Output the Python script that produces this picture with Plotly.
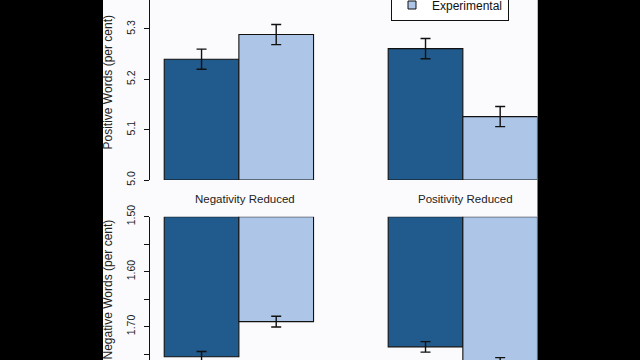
import plotly.graph_objects as go

# ---- data ----
groups = ["Negativity Reduced", "Positivity Reduced"]
series = ["Control", "Experimental"]

pos_control = [5.240, 5.261]
pos_control_se = [0.020, 0.020]
pos_exper = [5.289, 5.126]
pos_exper_se = [0.020, 0.020]

neg_control = [1.755, 1.737]
neg_control_se = [0.0095, 0.0095]
neg_exper = [1.691, 1.766]
neg_exper_se = [0.0097, 0.0095]

pos_ticks = [5.0, 5.1, 5.2, 5.3]
pos_ticktext = ["5.0", "5.1", "5.2", "5.3"]
neg_ticks = [1.50, 1.55, 1.60, 1.65, 1.70, 1.75]
neg_ticktext = ["1.50", "", "1.60", "", "1.70", ""]

pos_base = 5.0
neg_base = 1.5

# ---- style ----
DARK = "#215a8c"
LIGHT = "#adc6e7"
BG = "#fbfbfd"
FONT = "Liberation Sans, Arial, sans-serif"
W, H = 640, 360

fig = go.Figure()

err_style = dict(type="data", visible=True, color="#111111", thickness=1.4, width=5)
bar_line = dict(color="#111111", width=1.1)

for name, vals, se, col in [("Control", pos_control, pos_control_se, DARK),
                            ("Experimental", pos_exper, pos_exper_se, LIGHT)]:
    fig.add_trace(go.Bar(
        x=groups, y=[v - pos_base for v in vals], base=pos_base,
        error_y=dict(array=se, **err_style),
        marker=dict(color=col, line=bar_line), name=name, showlegend=False,
        xaxis="x", yaxis="y"))

for name, vals, se, col in [("Control", neg_control, neg_control_se, DARK),
                            ("Experimental", neg_exper, neg_exper_se, LIGHT)]:
    fig.add_trace(go.Bar(
        x=groups, y=[v - neg_base for v in vals], base=neg_base,
        error_y=dict(array=se, **err_style),
        marker=dict(color=col, line=bar_line), name=name, showlegend=False,
        xaxis="x2", yaxis="y2"))

# legend-only entries
for name, col in [("Control", DARK), ("Experimental", LIGHT)]:
    fig.add_trace(go.Scatter(
        x=[None], y=[None], mode="markers", name=name,
        marker=dict(symbol="square", size=8, color=col, line=dict(color="#111111", width=1)),
        xaxis="x", yaxis="y"))

xdom = [103 / W, 537.5 / W]
xr = [-0.6067, 1.3333]
axis_y_pos = 149.3 / W

yax_common = dict(
    showline=True, linecolor="#111111", linewidth=1.2,
    ticks="outside", ticklen=5, tickwidth=1.2, tickcolor="#111111",
    tickangle=-90, tickfont=dict(family=FONT, size=10.5, color="#222222"),
    showgrid=False, zeroline=False, anchor="free", position=axis_y_pos,
    ticklabelstandoff=5,
)

def title_ann(text, x, y, size, angle=0):
    return dict(text=text, xref="paper", yref="paper", x=x, y=y,
                xanchor="center", yanchor="middle", textangle=angle,
                showarrow=False, font=dict(family=FONT, size=size, color="#222222"))

fig.update_layout(
    width=W, height=H,
    margin=dict(l=0, r=0, t=0, b=0, autoexpand=False),
    paper_bgcolor="#000000", plot_bgcolor=BG,
    barmode="group", bargap=1/3, bargroupgap=0,
    font=dict(family=FONT, color="#222222"),
    xaxis=dict(domain=xdom, range=xr, visible=False, anchor="y"),
    xaxis2=dict(domain=xdom, range=xr, visible=False, anchor="y2"),
    yaxis=dict(domain=[0.5, 1.0], range=[5.0, 5.3576],
               tickvals=pos_ticks, ticktext=pos_ticktext, **yax_common),
    yaxis2=dict(domain=[0.0, 143.3 / H], range=[1.7609, 1.50],
                tickvals=neg_ticks, ticktext=neg_ticktext, **yax_common),
    legend=dict(x=450 / W, xanchor="center", y=(H - 20.5) / H, yanchor="bottom",
                bgcolor="#ffffff", bordercolor="#111111", borderwidth=1,
                font=dict(family=FONT, size=12, color="#111111"),
                traceorder="normal"),
    shapes=[dict(type="rect", xref="paper", yref="paper",
                 x0=xdom[0], x1=xdom[1], y0=0, y1=1,
                 fillcolor=BG, line=dict(width=0), layer="below")],
    annotations=[
        title_ann("Positive Words (per cent)", 107.5 / W, (H - 82) / H, 12, -90),
        title_ann("Negative Words (per cent)", 107.5 / W, (H - 290) / H, 12, -90),
        title_ann(groups[0], 245 / W, (H - 199) / H, 11.5),
        title_ann(groups[1], 465 / W, (H - 199) / H, 11.5),
    ],
)

fig.write_html("out.html")
